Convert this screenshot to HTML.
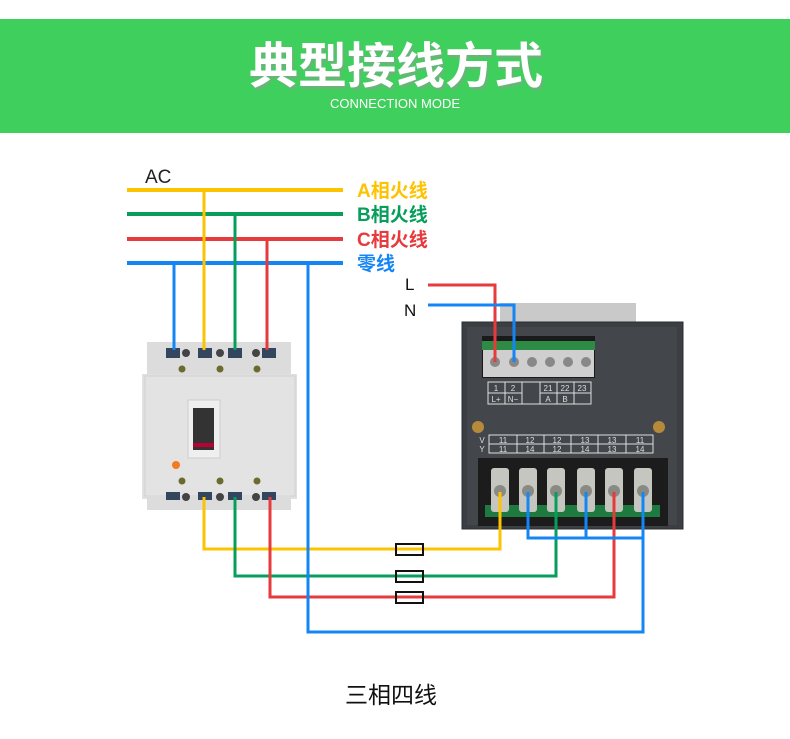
<!DOCTYPE html>
<html><head><meta charset="utf-8"><style>
html,body{margin:0;padding:0;background:#fff;}
svg{display:block}
text{font-family:"Liberation Sans","Noto Sans CJK SC",sans-serif;}
</style></head><body>
<svg width="790" height="739" viewBox="0 0 790 739" xmlns="http://www.w3.org/2000/svg">
<rect x="0" y="19" width="790" height="114" fill="#3ecf5c"/>
<text x="396" y="83" text-anchor="middle" font-size="49" font-weight="bold" fill="#9a9a9a" opacity="0.45" transform="translate(2,3)">典型接线方式</text>
<text x="396" y="83" text-anchor="middle" font-size="49" font-weight="bold" fill="#fff">典型接线方式</text>
<text x="395" y="108" text-anchor="middle" font-size="13" fill="#fff">CONNECTION MODE</text>

<text x="145" y="183" font-size="19" fill="#222">AC</text>
<g stroke-width="4" fill="none">
<line x1="127" y1="190" x2="343" y2="190" stroke="#fdc300"/>
<line x1="127" y1="214" x2="343" y2="214" stroke="#079e5c"/>
<line x1="127" y1="239" x2="343" y2="239" stroke="#e63a3c"/>
<line x1="127" y1="263" x2="343" y2="263" stroke="#1485f5"/>
</g>
<g font-size="19" font-weight="bold">
<text x="357" y="197" fill="#fdc300">A相火线</text>
<text x="357" y="221" fill="#079e5c">B相火线</text>
<text x="357" y="246" fill="#e63a3c">C相火线</text>
<text x="357" y="270" fill="#1485f5">零线</text>
</g>

<!-- breaker -->
<g>
<rect x="147" y="342" width="144" height="34" fill="#dcdcdc"/>
<rect x="142" y="374" width="155" height="125" fill="#e0e0e0"/>
<rect x="145" y="376" width="150" height="120" fill="#e3e3e3" stroke="#d0d0d0"/>
<rect x="147" y="495" width="144" height="15" fill="#dcdcdc"/>
<rect x="188" y="400" width="32" height="58" fill="#efefef" stroke="#ccc"/>
<rect x="193" y="408" width="21" height="42" fill="#333"/>
<rect x="193" y="443" width="21" height="4" fill="#b03"/>
<circle cx="176" cy="465" r="4" fill="#f47a20"/>
<g fill="#34455e"><rect x="166" y="348" width="14" height="10"/><rect x="198" y="348" width="14" height="10"/><rect x="228" y="348" width="14" height="10"/><rect x="262" y="348" width="14" height="10"/>
<rect x="166" y="492" width="14" height="8"/><rect x="198" y="492" width="14" height="8"/><rect x="228" y="492" width="14" height="8"/><rect x="262" y="492" width="14" height="8"/></g>
<g fill="#444"><circle cx="186" cy="353" r="4"/><circle cx="220" cy="353" r="4"/><circle cx="256" cy="353" r="4"/>
<circle cx="186" cy="497" r="4"/><circle cx="220" cy="497" r="4"/><circle cx="256" cy="497" r="4"/></g>
<g fill="#6b6b30"><circle cx="182" cy="369" r="3.5"/><circle cx="220" cy="369" r="3.5"/><circle cx="257" cy="369" r="3.5"/>
<circle cx="182" cy="481" r="3.5"/><circle cx="220" cy="481" r="3.5"/><circle cx="257" cy="481" r="3.5"/></g>
</g>

<!-- meter -->
<rect x="500" y="303" width="136" height="20" fill="#c9c9c9"/>
<rect x="462" y="322" width="221" height="207" fill="#3b3f44" stroke="#2a2d30"/>
<rect x="467" y="327" width="210" height="198" fill="#43474c"/>
<rect x="482" y="336" width="113" height="42" fill="#1a1a1a"/>
<rect x="482" y="341" width="113" height="9" fill="#2e8b45"/>
<rect x="483" y="350" width="111" height="27" fill="#cfcfcf"/>
<g fill="#888"><circle cx="495" cy="362" r="5"/><circle cx="514" cy="362" r="5"/><circle cx="532" cy="362" r="5"/><circle cx="550" cy="362" r="5"/><circle cx="568" cy="362" r="5"/><circle cx="586" cy="362" r="5"/></g>
<g stroke="#ddd" fill="none" stroke-width="1">
<rect x="488" y="382" width="103" height="22"/>
<line x1="488" y1="393" x2="522" y2="393"/><line x1="540" y1="393" x2="591" y2="393"/>
<line x1="505" y1="382" x2="505" y2="404"/><line x1="522" y1="382" x2="522" y2="404"/><line x1="540" y1="382" x2="540" y2="404"/><line x1="557" y1="382" x2="557" y2="404"/><line x1="574" y1="382" x2="574" y2="404"/>
<rect x="489" y="435" width="164" height="18"/><line x1="489" y1="444" x2="653" y2="444"/>
<line x1="517" y1="435" x2="517" y2="453"/><line x1="544" y1="435" x2="544" y2="453"/><line x1="571" y1="435" x2="571" y2="453"/><line x1="598" y1="435" x2="598" y2="453"/><line x1="626" y1="435" x2="626" y2="453"/>
</g>
<g font-size="8" fill="#ddd" text-anchor="middle">
<text x="496" y="391">1</text><text x="513" y="391">2</text><text x="548" y="391">21</text><text x="565" y="391">22</text><text x="582" y="391">23</text>
<text x="496" y="402">L+</text><text x="513" y="402">N−</text><text x="548" y="402">A</text><text x="565" y="402">B</text>
<text x="503" y="443">11</text><text x="530" y="443">12</text><text x="557" y="443">12</text><text x="585" y="443">13</text><text x="612" y="443">13</text><text x="640" y="443">11</text>
<text x="503" y="452">11</text><text x="530" y="452">14</text><text x="557" y="452">12</text><text x="585" y="452">14</text><text x="612" y="452">13</text><text x="640" y="452">14</text>
<text x="482" y="443">V</text><text x="482" y="452">Y</text>
</g>
<circle cx="478" cy="427" r="6" fill="#b58a3a"/><circle cx="659" cy="427" r="6" fill="#b58a3a"/>
<rect x="478" y="458" width="190" height="68" fill="#1c1c1c"/>
<rect x="485" y="505" width="175" height="12" fill="#1e7a3e"/>
<g fill="#c6c6c0">
<rect x="491" y="468" width="18" height="44" rx="3"/><rect x="519" y="468" width="18" height="44" rx="3"/><rect x="547" y="468" width="18" height="44" rx="3"/><rect x="577" y="468" width="18" height="44" rx="3"/><rect x="605" y="468" width="18" height="44" rx="3"/><rect x="634" y="468" width="18" height="44" rx="3"/></g>
<g fill="#8a8a84"><circle cx="500" cy="491" r="6"/><circle cx="528" cy="491" r="6"/><circle cx="556" cy="491" r="6"/><circle cx="586" cy="491" r="6"/><circle cx="614" cy="491" r="6"/><circle cx="643" cy="491" r="6"/></g>

<text x="405" y="290" font-size="17" fill="#111">L</text>
<text x="404" y="316" font-size="17" fill="#111">N</text>
<g stroke-width="3" fill="none" stroke-linejoin="miter">
<polyline points="428,285 495,285 495,362" stroke="#e63a3c"/>
<polyline points="428,305 514,305 514,362" stroke="#1485f5"/>
<line x1="174" y1="263" x2="174" y2="350" stroke="#1485f5"/>
<line x1="204" y1="190" x2="204" y2="350" stroke="#fdc300"/>
<line x1="235" y1="214" x2="235" y2="350" stroke="#079e5c"/>
<line x1="267" y1="239" x2="267" y2="350" stroke="#e63a3c"/>
<polyline points="204,497 204,549 500,549 500,492" stroke="#fdc300"/>
<polyline points="235,497 235,576 556,576 556,492" stroke="#079e5c"/>
<polyline points="270,497 270,597 614,597 614,492" stroke="#e63a3c"/>
<polyline points="308,263 308,632 643,632 643,492" stroke="#1485f5"/>
<polyline points="528,492 528,538 643,538" stroke="#1485f5"/>
<line x1="586" y1="492" x2="586" y2="538" stroke="#1485f5"/>
</g>
<g fill="none" stroke="#111" stroke-width="2">
<rect x="396" y="544" width="27" height="11"/>
<rect x="396" y="571" width="27" height="11"/>
<rect x="396" y="592" width="27" height="11"/>
</g>
<text x="391" y="703" text-anchor="middle" font-size="23" fill="#111">三相四线</text>
</svg>
</body></html>
